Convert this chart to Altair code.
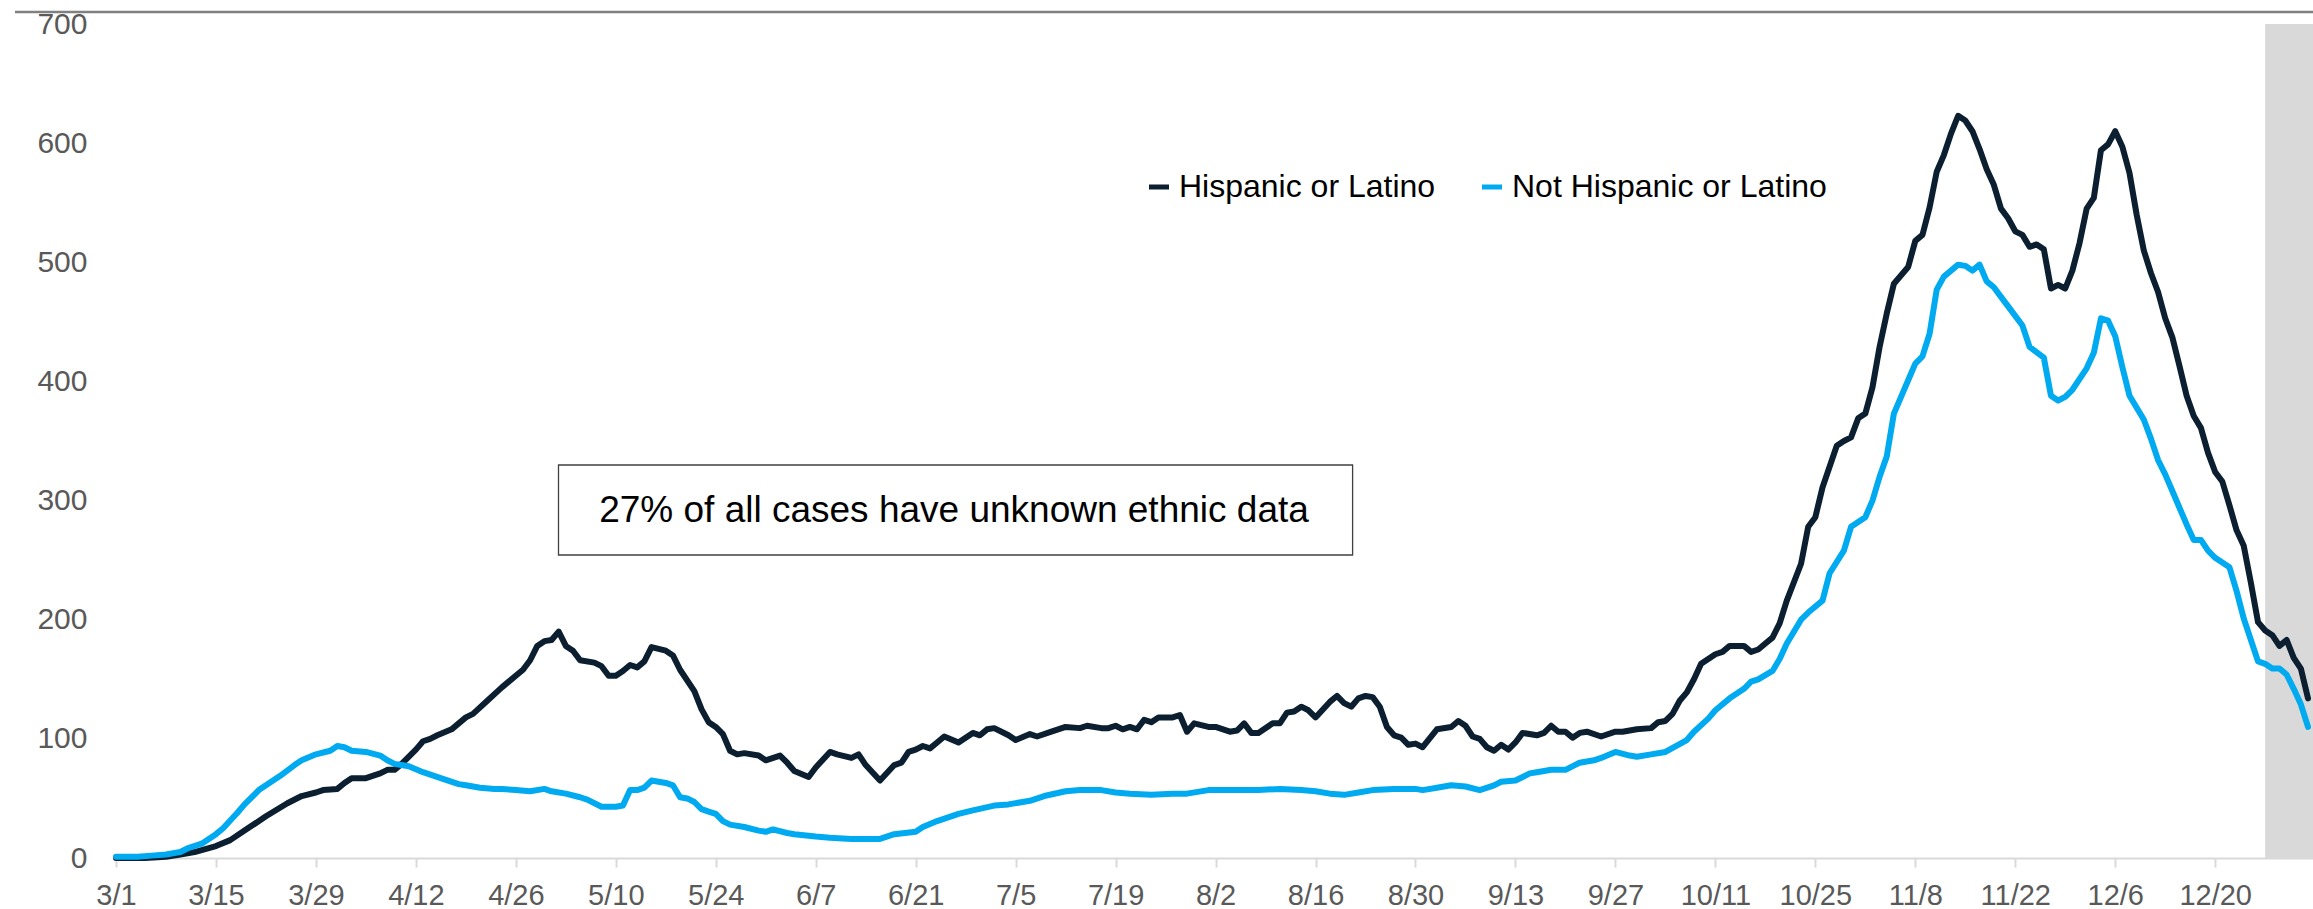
import altair as alt
import pandas as pd

START = "2020-03-01"

HISP_DAY = [0, 4, 7, 9, 11, 14, 16, 18, 21, 24, 26, 28, 29, 31, 32, 33, 35, 37, 38, 39, 40, 42, 43, 44, 45, 47, 49, 50,
            52, 54, 55, 57, 58, 59, 60, 61, 62, 63, 64, 65, 67, 68, 69, 70, 71, 72, 73, 74, 75, 77, 78, 79, 81, 82, 83,
            84, 85, 86, 87, 88, 90, 91, 93, 94, 95, 97, 98, 100, 101, 103, 104, 105, 107, 109, 110, 111, 112, 113, 114,
            115, 116, 118, 119, 120, 121, 122, 123, 125, 126, 128, 129, 131, 133, 135, 136, 138, 139, 140, 141, 142,
            143, 144, 145, 146, 148, 149, 150, 151, 153, 154, 156, 157, 158, 159, 160, 162, 163, 164, 165, 166, 167,
            168, 170, 171, 172, 173, 174, 175, 176, 177, 178, 179, 180, 181, 182, 183, 185, 187, 188, 189, 190, 191,
            192, 193, 194, 195, 196, 197, 199, 200, 201, 202, 203, 204, 205, 206, 208, 210, 211, 213, 215, 216, 217,
            218, 219, 220, 221, 222, 224, 225, 226, 228, 229, 230, 231, 232, 233, 234, 236, 237, 238, 239, 241, 242,
            243, 244, 245, 246, 247, 248, 249, 251, 252, 253, 254, 255, 256, 257, 258, 259, 260, 261, 262, 263, 264,
            265, 266, 267, 268, 269, 270, 271, 272, 273, 274, 275, 276, 277, 278, 279, 280, 281, 282, 283, 284, 285,
            286, 287, 288, 289, 290, 291, 292, 293, 294, 295, 296, 297, 298, 299, 300, 301, 302, 303, 304, 305, 306,
            307]
HISP_VAL = [0, 0, 1, 3, 5, 10, 15, 23, 35, 46, 52, 55, 57, 58, 63, 67, 67, 71, 74, 74, 79, 91, 98, 100, 103, 108, 118,
            121, 132, 143, 148, 158, 166, 178, 182, 183, 190, 178, 174, 166, 164, 161, 153, 153, 157, 162, 160, 165,
            177, 174, 170, 158, 140, 125, 114, 110, 104, 90, 87, 88, 86, 82, 86, 80, 73, 68, 76, 89, 87, 84, 87, 78,
            65, 78, 80, 89, 91, 94, 92, 97, 102, 97, 101, 105, 103, 108, 109, 103, 99, 104, 102, 106, 110, 109, 111,
            109, 109, 111, 108, 110, 108, 116, 114, 118, 118, 120, 106, 113, 110, 110, 106, 107, 113, 105, 105, 113,
            113, 122, 123, 127, 124, 118, 131, 136, 130, 127, 134, 136, 135, 127, 110, 103, 101, 95, 96, 93, 108, 110,
            115, 111, 102, 100, 93, 90, 95, 91, 97, 105, 103, 105, 111, 106, 106, 101, 105, 106, 102, 106, 106, 108,
            109, 114, 115, 121, 132, 139, 150, 163, 171, 173, 178, 178, 173, 175, 180, 185, 197, 216, 247, 278, 286,
            311, 346, 350, 353, 369, 373, 395, 429, 457, 482, 496, 518, 523, 546, 576, 590, 608, 623, 619, 610, 595,
            578, 565, 545, 537, 526, 523, 513, 515, 511, 478, 481, 478, 493, 516, 545, 554, 594, 599, 610, 597, 575,
            540, 510, 491, 475, 453, 437, 413, 388, 371, 361, 340, 324, 316, 296, 275, 262, 231, 198, 191, 187, 178,
            183, 168, 159, 134]

NOT_DAY = [0, 3, 5, 7, 9, 10, 12, 14, 15, 17, 18, 20, 21, 23, 25, 26, 28, 30, 31, 32, 33, 35, 37, 38, 39, 40, 41, 43,
           46, 48, 49, 51, 53, 54, 56, 58, 60, 61, 63, 65, 66, 68, 70, 71, 72, 73, 74, 75, 76, 77, 78, 79, 80, 81, 82,
           83, 84, 85, 86, 88, 90, 91, 92, 94, 95, 98, 100, 103, 107, 109, 112, 113, 115, 118, 120, 123, 125, 128,
           130, 133, 135, 138, 140, 142, 145, 148, 150, 153, 158, 160, 163, 166, 168, 170, 172, 174, 176, 179, 182,
           183, 185, 187, 189, 191, 193, 194, 196, 198, 199, 201, 203, 205, 207, 208, 210, 212, 213, 215, 217, 220,
           221, 223, 224, 226, 228, 229, 230, 232, 233, 234, 236, 237, 239, 240, 242, 243, 245, 246, 247, 248, 249,
           251, 252, 253, 254, 255, 256, 257, 258, 259, 260, 261, 262, 263, 264, 265, 266, 267, 268, 270, 271, 272,
           273, 274, 276, 277, 278, 279, 280, 281, 282, 284, 285, 286, 287, 288, 289, 290, 291, 292, 293, 294, 296,
           297, 298, 300, 301, 302, 303, 304, 305, 306, 307]
NOT_VAL = [1, 1, 2, 3, 5, 8, 12, 20, 25, 38, 45, 57, 61, 69, 78, 82, 87, 90, 94, 93, 90, 89, 86, 82, 79, 78, 77, 72,
           66, 62, 61, 59, 58, 58, 57, 56, 58, 56, 54, 51, 49, 43, 43, 44, 57, 57, 59, 65, 64, 63, 61, 51, 50, 47, 41,
           39, 37, 31, 28, 26, 23, 22, 24, 21, 20, 18, 17, 16, 16, 20, 22, 26, 31, 37, 40, 44, 45, 48, 52, 56, 57, 57,
           55, 54, 53, 54, 54, 57, 57, 57, 58, 57, 56, 54, 53, 55, 57, 58, 58, 57, 59, 61, 60, 57, 61, 64, 65, 71, 72,
           74, 74, 80, 82, 84, 89, 86, 85, 87, 89, 99, 106, 117, 124, 134, 142, 148, 150, 157, 167, 180, 200, 206,
           216, 239, 258, 278, 286, 300, 320, 337, 373, 401, 415, 421, 440, 477, 488, 493, 498, 497, 493, 498, 484,
           479, 471, 463, 455, 447, 429, 420, 388, 384, 387, 393, 411, 424, 453, 451, 438, 412, 388, 368, 352, 334,
           322, 308, 294, 280, 267, 267, 258, 252, 244, 224, 201, 165, 163, 159, 159, 154, 142, 129, 110]

SERIES = ["Hispanic or Latino", "Not Hispanic or Latino"]
COLORS = ["#0B1F30", "#00AAF0"]

TICK_DATES = ["2020-03-01", "2020-03-15", "2020-03-29", "2020-04-12", "2020-04-26", "2020-05-10", "2020-05-24",
              "2020-06-07", "2020-06-21", "2020-07-05", "2020-07-19", "2020-08-02", "2020-08-16", "2020-08-30",
              "2020-09-13", "2020-09-27", "2020-10-11", "2020-10-25", "2020-11-08", "2020-11-22", "2020-12-06",
              "2020-12-20"]
Y_TICKS = [0, 100, 200, 300, 400, 500, 600, 700]
SHADE_START = ["2020-12-27"]
DOMAIN = ["2020-03-01T00:00:00", "2021-01-02T16:48:00"]
NOTE = ["27% of all cases have unknown ethnic data"]

W, H = 2197, 834
FONT = "Liberation Sans"


def ms(s):
    return int(pd.Timestamp(s, tz="UTC").value // 10**6)


def to_dates(days):
    return [(pd.Timestamp(START) + pd.Timedelta(days=d)).strftime("%Y-%m-%d") for d in days]


df = pd.concat([
    pd.DataFrame({"date": to_dates(HISP_DAY), "value": HISP_VAL, "series": SERIES[0]}),
    pd.DataFrame({"date": to_dates(NOT_DAY), "value": NOT_VAL, "series": SERIES[1]}),
])

xscale = alt.Scale(type="utc", domain=[ms(d) for d in DOMAIN])
yscale = alt.Scale(domain=[0, 700], nice=False, zero=True)

x_axis = alt.Axis(values=[ms(d) for d in TICK_DATES], labelExpr="utcFormat(datum.value, '%-m/%-d')",
                  labelFontSize=29, labelColor="#595959", labelFont=FONT, tickColor="#d9d9d9", tickWidth=2,
                  tickSize=9, domainColor="#d9d9d9", domainWidth=2, labelPadding=14, grid=False, title=None,
                  labelFlush=False, labelOverlap=False)
y_axis = alt.Axis(values=Y_TICKS, labelFontSize=30, labelColor="#595959", labelFont=FONT, ticks=False,
                  domain=False, grid=False, labelPadding=29, title=None)

band = alt.Chart(pd.DataFrame({"start": SHADE_START})).mark_rect(color="#d9d9d9").encode(
    x=alt.X("start:T", scale=xscale, axis=x_axis),
    x2=alt.value(W),
    y=alt.value(0),
    y2=alt.value(H),
)

lines = alt.Chart(df).mark_line(strokeWidth=6, strokeCap="round", strokeJoin="round").encode(
    x=alt.X("date:T", scale=xscale, axis=x_axis),
    y=alt.Y("value:Q", scale=yscale, axis=y_axis),
    color=alt.Color("series:N", sort=SERIES, scale=alt.Scale(domain=SERIES, range=COLORS),
                    legend=alt.Legend(orient="none", legendX=1027, legendY=147, direction="horizontal",
                                      title=None, symbolType="stroke", symbolStrokeWidth=5, symbolSize=400,
                                      labelFontSize=32, labelColor="black", labelFont=FONT, labelOffset=4,
                                      labelLimit=0, columnPadding=36, padding=0)),
    order=alt.Order("series:N", sort="ascending"),
)

note_df = pd.DataFrame({"label": NOTE})
box = alt.Chart(note_df).mark_rect(fillOpacity=0, stroke="#404040", strokeWidth=1.3).encode(
    x=alt.value(442.5), x2=alt.value(1236.6), y=alt.value(441), y2=alt.value(531)
)
note = alt.Chart(note_df).mark_text(fontSize=37, font=FONT, color="black", align="center",
                                    baseline="middle").encode(
    x=alt.value(838), y=alt.value(487), text="label:N"
)

top_rule = alt.Chart(note_df).mark_rule(color="#808080", strokeWidth=2.5).encode(
    x=alt.value(-101), x2=alt.value(W), y=alt.value(-12)
)

chart = alt.layer(band, lines, box, note, top_rule).properties(
    width=W, height=H,
    autosize=alt.AutoSizeParams(type="none"),
    padding={"left": 116, "top": 24, "right": 0, "bottom": 51},
    background="white",
).configure(font=FONT).configure_view(stroke=None)

chart.save("out.html", embed_options={"renderer": "svg", "actions": False})
